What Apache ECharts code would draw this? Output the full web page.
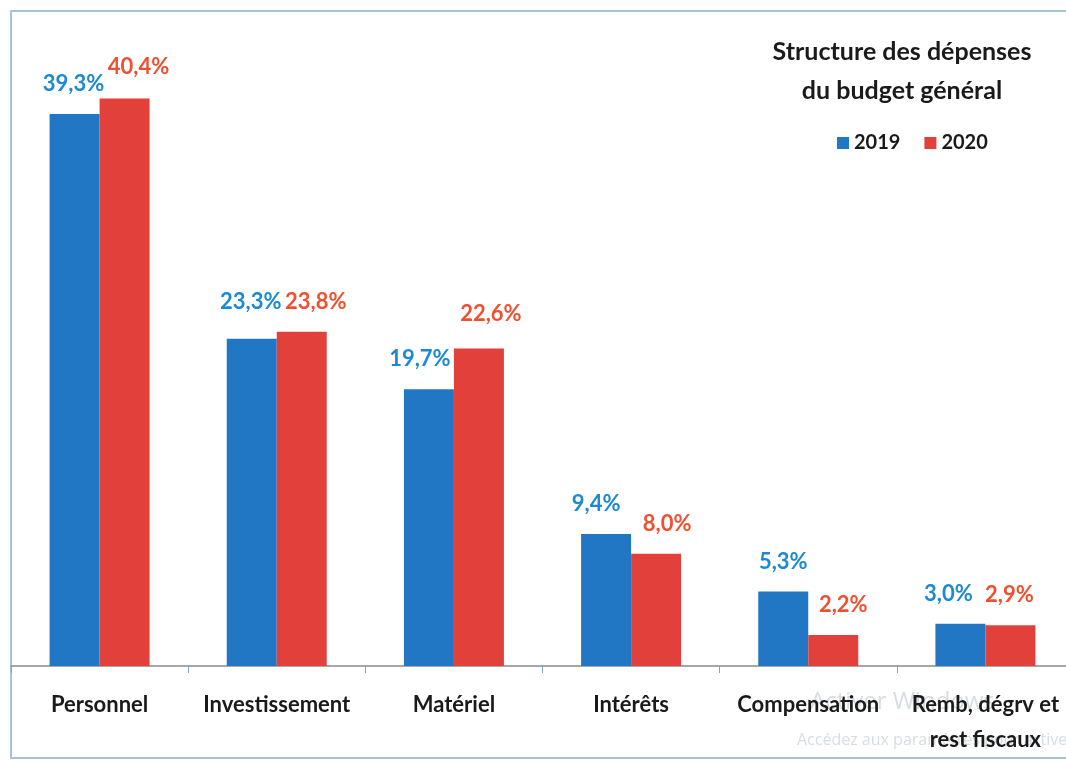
<!DOCTYPE html>
<html>
<head>
<meta charset="utf-8">
<script src="https://cdn.jsdelivr.net/npm/echarts@6/dist/echarts.min.js"></script>
<style>
html,body{margin:0;padding:0;background:#fff;overflow:hidden;width:1066px;height:760px;}
#main{width:1080px;height:760px;}
</style>
</head>
<body>
<div id="main"></div>
<script>
const categories = ['Personnel', 'Investissement', 'Matériel', 'Intérêts', 'Compensation', 'Remb, dégrv et\nrest fiscaux'];
const values2019 = [39.3, 23.3, 19.7, 9.4, 5.3, 3.0];
const values2020 = [40.4, 23.8, 22.6, 8.0, 2.2, 2.9];
const seriesNames = ['2019', '2020'];
const titleText = 'Structure des dépenses\ndu budget général';

// label nudges (style only)
const labelOffsets2019 = [[-1, 0], [-1, -7], [-9, 0], [-10, 0], [0, 0], [-12, 0]];
const labelOffsets2020 = [[14, -2], [14, 0], [12, -5], [11, 0], [10, 0], [-1, 0]];

const FONT = 'Lato';
const fmt = p => p.value.toFixed(1).replace('.', ',') + '%';

function withOffsets(vals, offs) {
  return vals.map((v, i) => ({ value: v, label: { offset: offs[i] } }));
}

const chart = echarts.init(document.getElementById('main'));
chart.setOption({
  backgroundColor: '#ffffff',
  animation: false,
  title: {
    text: titleText,
    left: 897,
    top: 27,
    textAlign: 'center',
    textStyle: { fontFamily: FONT, fontWeight: 'bold', fontSize: 25, color: '#1a1a1a', lineHeight: 39 }
  },
  legend: {
    data: seriesNames,
    left: 832,
    top: 128,
    itemWidth: 12,
    itemHeight: 12,
    itemGap: 24,
    icon: 'rect',
    textStyle: { fontFamily: FONT, fontWeight: 'bold', fontSize: 20, color: '#1a1a1a' }
  },
  grid: { left: 11, width: 1063, top: 34, bottom: 94, containLabel: false },
  xAxis: {
    type: 'category',
    data: categories,
    axisLine: { lineStyle: { color: '#8a8a8a', width: 1.5 } },
    axisTick: { show: true, interval: 0, length: 7, lineStyle: { color: '#7aa6c8' } },
    axisLabel: {
      interval: 0,
      margin: 21,
      fontFamily: FONT, fontWeight: 'bold', fontSize: 22, color: '#1a1a1a', lineHeight: 35
    }
  },
  yAxis: {
    type: 'value', min: 0, max: 45,
    show: false,
    splitLine: { show: false }
  },
  series: [
    {
      name: seriesNames[0], type: 'bar', data: withOffsets(values2019, labelOffsets2019), barWidth: 50, barGap: '0%',
      itemStyle: { color: '#2177c3' },
      label: { show: true, position: 'top', distance: 19, formatter: fmt,
        fontFamily: FONT, fontWeight: 'bold', fontSize: 22, color: '#1b8ad2' }
    },
    {
      name: seriesNames[1], type: 'bar', data: withOffsets(values2020, labelOffsets2020), barWidth: 50, barGap: '0%',
      itemStyle: { color: '#e2413b' },
      label: { show: true, position: 'top', distance: 19, formatter: fmt,
        fontFamily: FONT, fontWeight: 'bold', fontSize: 22, color: '#f0502f' }
    }
  ],
  graphic: [
    { type: 'rect', silent: true, z: -1,
      shape: { x: 11, y: 11, width: 1100, height: 747 },
      style: { fill: 'none', stroke: '#a8c3d3', lineWidth: 2 } },
    { type: 'text', silent: true, z: -1, left: 810, top: 690,
      style: { text: 'Activer Windows', fill: '#d6dde4', font: '24px "Open Sans"' } },
    { type: 'text', silent: true, z: -1, left: 797, top: 732,
      style: { text: 'Accédez aux paramètres pour activer Windows.', fill: '#d6dde4', font: '16px "Open Sans"' } }
  ]
});
</script>
</body>
</html>
